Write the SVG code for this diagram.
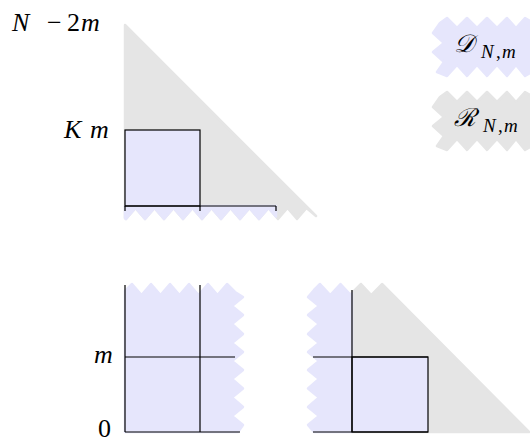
<svg xmlns="http://www.w3.org/2000/svg" width="530" height="443" viewBox="0 0 530 443">
<style>
.blue{fill:#e6e6fc;stroke:#e6e6fc;stroke-width:2.5;stroke-linejoin:round}
.gray{fill:#e5e5e5;stroke:#e5e5e5;stroke-width:2.5;stroke-linejoin:round}
.box{fill:#e6e6fc;stroke:#000;stroke-width:1.2}
.ln{stroke:#000;stroke-width:1.2;fill:none}
</style>
<rect width="530" height="443" fill="#fff"/>
<g id="top-figure">
<path class="gray" d="M125,25 L316,216 L306.5,208 L297,219 L287.5,208 L278,219 L268.5,208 L259,219 L249.5,208 L240,219 L230.5,208 L221,219 L211.5,208 L202,219 L192.5,208 L183,219 L173.5,208 L164,219 L154.5,208 L145,219 L135.5,208 L126,219 L125,218 Z"/>
<path class="blue" d="M125,206 L276,206 L276,216.6 L268.5,208 L259,219 L249.5,208 L240,219 L230.5,208 L221,219 L211.5,208 L202,219 L192.5,208 L183,219 L173.5,208 L164,219 L154.5,208 L145,219 L135.5,208 L126,219 L125,218 Z"/>
<rect class="box" x="125" y="130" width="75" height="76"/>
<path class="ln" d="M125,206 H276 M125,206 V211 M200,206 V211 M276,206 V211"/>
</g>
<g id="bottom-left-figure">
<path class="blue" d="M125,432 L125,291 L132,284 L141.5,295 L151,284 L160.5,295 L170,284 L179.5,295 L189,284 L198.5,295 L208,284 L217.5,295 L227,284 L235,292 L243,297 L232,306 L243,315 L232,324 L243,334 L232,343 L243,352 L232,361 L243,370 L232,379 L243,388.5 L232,397.5 L243,407 L232,416 L243,425 L238,432 Z"/>
<path class="ln" d="M125,285 V432 M200,285 V432 M125,357 H235 M125,432 H240"/>
</g>
<g id="bottom-right-figure">
<path class="gray" d="M352,432 L352,293 L361,284 L371.25,295 L382,284 L529,432 Z"/>
<path class="blue" d="M352,432 L314,432 L308,425 L319,416 L308,407 L319,397.5 L308,388.5 L319,379 L308,370 L319,361 L308,352 L319,343 L308,334 L319,324 L308,315 L319,306 L308,297 L314,290 L320,284 L330.25,295 L340.5,284 L350.75,295 L352,293 Z"/>
<rect class="box" x="352" y="357" width="76" height="75"/>
<path class="ln" d="M352,290 V432 M313,357 H428 M313,432 H428"/>
</g>
<g id="axis-labels" font-family="'Liberation Serif', serif" font-size="26" fill="#000">
<text y="31"><tspan font-style="italic" x="12">N</tspan><tspan x="47">−</tspan><tspan x="67">2</tspan><tspan font-style="italic" x="81">m</tspan></text>
<text y="138"><tspan font-style="italic" x="64">K</tspan><tspan font-style="italic" x="90">m</tspan></text>
<text font-style="italic" x="94" y="363">m</text>
<text x="98" y="437">0</text>
</g>
<g id="legend-D">
<path class="blue" d="M440,23 L447,18 L457,28 L467,18 L477,28 L487,18 L497,28 L507,18 L516,28 L525,18 L530,21 L530,73 L525,76 L516,65 L507,76 L497,65 L487,76 L477,65 L467,76 L457,65 L447,76 L437,72 L444,62 L433,52 L444,43 L433,33 Z"/>
<text font-family="'DejaVu Serif', serif" font-size="25" font-style="italic" x="454" y="52">𝒟</text>
<text font-family="'Liberation Serif', serif" font-size="19" y="58"><tspan font-style="italic" x="481">N</tspan><tspan x="496">,</tspan><tspan font-style="italic" x="502">m</tspan></text>
</g>
<g id="legend-R">
<path class="gray" d="M440,97 L447,92 L457,102 L467,92 L477,102 L487,92 L497,102 L507,92 L516,102 L525,92 L530,95 L530,147 L525,150 L516,139 L507,150 L497,139 L487,150 L477,139 L467,150 L457,139 L447,150 L437,146 L444,136 L433,126 L444,117 L433,107 Z"/>
<text font-family="'DejaVu Serif', serif" font-size="25" font-style="italic" x="454" y="126">ℛ</text>
<text font-family="'Liberation Serif', serif" font-size="19" y="132"><tspan font-style="italic" x="483">N</tspan><tspan x="498">,</tspan><tspan font-style="italic" x="504">m</tspan></text>
</g>
</svg>
